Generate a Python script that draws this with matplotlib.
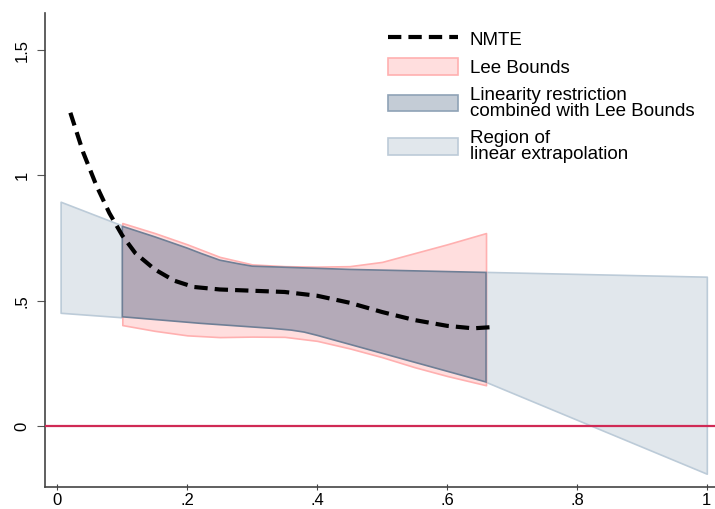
import matplotlib.pyplot as plt
import matplotlib.patches as mpatches
import matplotlib.lines as mlines

plt.rcParams['font.family'] = ['Liberation Sans', 'DejaVu Sans']

# NMTE curve
nmte_x = [0.02, 0.04, 0.06, 0.08, 0.10, 0.12, 0.15, 0.18, 0.21, 0.25, 0.30,
          0.35, 0.40, 0.45, 0.50, 0.55, 0.60, 0.64, 0.67]
nmte_y = [1.25, 1.09, 0.96, 0.85, 0.76, 0.69, 0.625, 0.58, 0.555, 0.545, 0.54,
          0.535, 0.52, 0.492, 0.455, 0.423, 0.40, 0.39, 0.395]

# Lee bounds
lee_x = [0.10, 0.15, 0.20, 0.25, 0.30, 0.35, 0.40, 0.45, 0.50, 0.55, 0.60, 0.66]
lee_hi = [0.81, 0.77, 0.725, 0.675, 0.645, 0.638, 0.636, 0.638, 0.655, 0.69, 0.725, 0.77]
lee_lo = [0.403, 0.38, 0.362, 0.355, 0.357, 0.356, 0.34, 0.31, 0.275, 0.235, 0.20, 0.163]

# linearity restriction combined with Lee bounds
lin_top_x = [0.10, 0.15, 0.20, 0.221, 0.25, 0.28, 0.30, 0.45, 0.66]
lin_top_y = [0.797, 0.755, 0.71, 0.689, 0.662, 0.647, 0.638, 0.625, 0.613]
lin_bot_x = [0.10, 0.22, 0.33, 0.36, 0.38, 0.40, 0.66]
lin_bot_y = [0.436, 0.41, 0.39, 0.383, 0.375, 0.362, 0.176]

# region of linear extrapolation (left and right pieces)
ext_left_x = [0.005, 0.10]
ext_left_hi = [0.895, 0.80]
ext_left_lo = [0.452, 0.434]
ext_right_x = [0.66, 1.0]
ext_right_hi = [0.615, 0.596]
ext_right_lo = [0.176, -0.19]

gray_fc, gray_ec = '#e1e7ec', '#bccbd8'
pink_fc, pink_ec = '#ffdede', '#ffb0b0'
dark_fc, dark_ec = '#b4aab8', '#6f7f96'
dash = (0, (3.2, 1.7))

fig = plt.figure(figsize=(7.15, 5.09), dpi=100)
ax = fig.add_axes([0.063, 0.0432, 0.937, 0.9313])

ax.fill_between(ext_left_x, ext_left_lo, ext_left_hi, facecolor=gray_fc,
                edgecolor=gray_ec, linewidth=1.2, zorder=1)
ax.fill_between(ext_right_x, ext_right_lo, ext_right_hi, facecolor=gray_fc,
                edgecolor=gray_ec, linewidth=1.2, zorder=1)
ax.fill_between(lee_x, lee_lo, lee_hi, facecolor=pink_fc, edgecolor=pink_ec,
                linewidth=1.2, zorder=2)
ax.fill(lin_top_x + lin_bot_x[::-1], lin_top_y + lin_bot_y[::-1],
        facecolor=dark_fc, edgecolor=dark_ec, linewidth=1.2, zorder=3)
ax.axhline(0, color='#d02a55', linewidth=1.6, zorder=4)
ax.plot(nmte_x, nmte_y, color='black', linestyle=dash, linewidth=3, zorder=5)

ax.set_xlim(-0.019, 1.0126)
ax.set_ylim(-0.243, 1.648)
ax.set_xticks([0, 0.2, 0.4, 0.6, 0.8, 1])
ax.set_xticklabels(['0', '.2', '.4', '.6', '.8', '1'])
ax.set_yticks([0, 0.5, 1, 1.5])
ax.set_yticklabels(['0', '.5', '1', '1.5'], rotation=90, va='center')
ax.tick_params(axis='x', labelsize=12, color='#444444', direction='inout',
               length=5, pad=1.5)
ax.tick_params(axis='y', labelsize=12, color='#555555', direction='out',
               length=6, pad=5)
for s in ['top', 'right']:
    ax.spines[s].set_visible(False)
for s in ['left', 'bottom']:
    ax.spines[s].set_color('#444444')
    ax.spines[s].set_linewidth(1.2)

handles = [
    mlines.Line2D([], [], color='black', linestyle=dash, linewidth=3),
    mpatches.Patch(facecolor=pink_fc, edgecolor=pink_ec, linewidth=1.2),
    mpatches.Patch(facecolor='#c4ccd6', edgecolor='#8fa2b6', linewidth=1.2),
    mpatches.Patch(facecolor=gray_fc, edgecolor=gray_ec, linewidth=1.2),
]
labels = ['NMTE', 'Lee Bounds', 'Linearity restriction\ncombined with Lee Bounds',
          'Region of\nlinear extrapolation']
leg = fig.legend(handles, labels, loc='upper left', bbox_to_anchor=(0.519, 0.974),
                 frameon=False, fontsize=13.5, handlelength=3.73, handleheight=0.95,
                 handletextpad=0.64, labelspacing=0.52)
for t in leg.get_texts():
    t.set_linespacing(0.95)

plt.savefig('out.png', dpi=100)
